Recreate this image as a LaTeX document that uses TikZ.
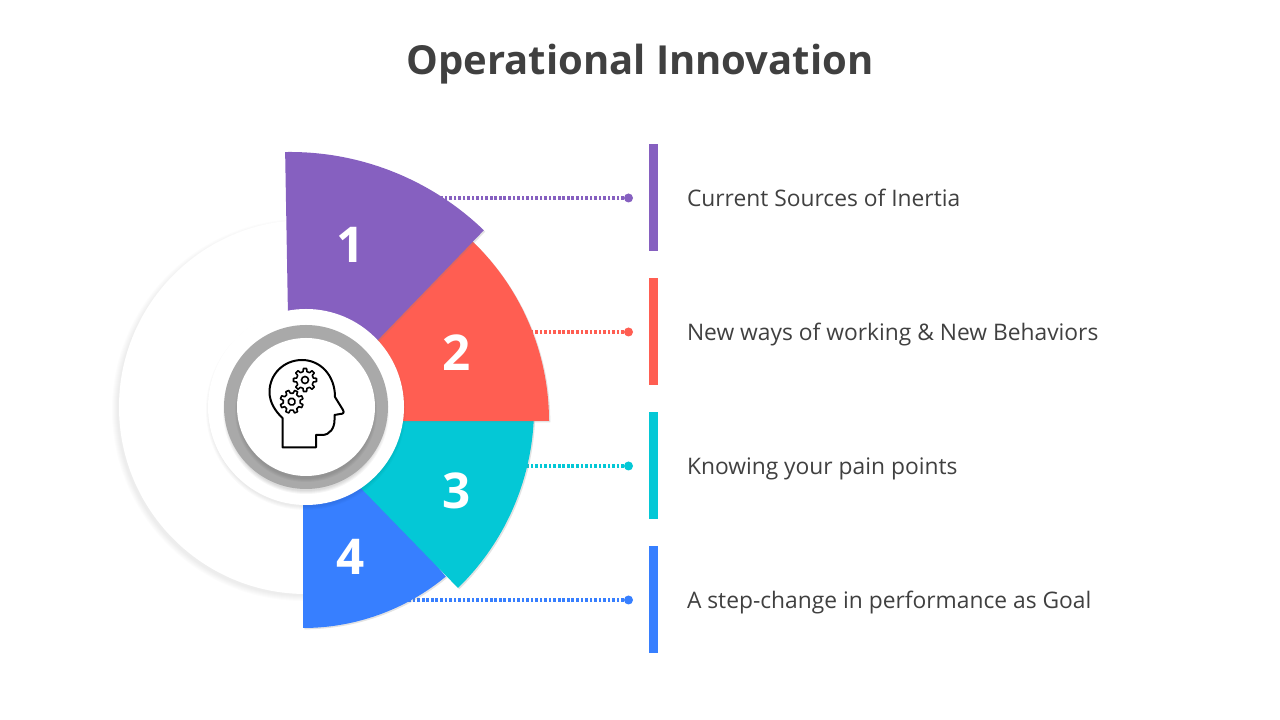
\documentclass[tikz,border=0pt]{standalone}
\usepackage{fontspec}
\setmainfont{Open Sans}
\definecolor{Micolor1}{HTML}{8660C0}
\definecolor{Micolor2}{HTML}{FF5E52}
\definecolor{Micolor3}{HTML}{04C8D6}
\definecolor{Micolor4}{HTML}{377FFF}
\definecolor{Micolor5}{HTML}{404040}
\definecolor{Micolor6}{HTML}{A9A9A9}
\usetikzlibrary{positioning, calc, shadows}

\begin{document}
\begin{tikzpicture}[
    x=0.75pt, y=0.75pt,
    bar/.style={rectangle, inner sep=0pt, outer sep=0pt, minimum width=6.75pt, minimum height=80.25pt},
    dot/.style={circle, inner sep=0pt, outer sep=0pt, minimum size=6.75pt, yshift=-0.375pt},
    txt/.style={font=\fontsize{17.1}{21}\selectfont, text=Micolor5, anchor=west, inner sep=0pt, outer sep=0pt, text height=12pt, text depth=3.5pt, yshift=-2.7pt},
    num/.style={font=\fontsize{37}{44}\selectfont\bfseries, text=white, inner sep=0pt},
    conn/.style={line width=2.3pt, dash pattern=on 2pt off 1.4pt},
    wedge/.style={drop shadow={shadow xshift=1pt, shadow yshift=-1pt, opacity=0.22}},
    gear/.pic={
      \draw[line width=1.2pt, line join=round] (-13:8.6)
        \foreach \a in {0,45,...,315}{
          -- (\a-13:8.6) -- (\a-8:11.6) -- (\a+8:11.6) -- (\a+13:8.6)} -- cycle;
      \draw[line width=1.2pt] (0,0) circle[radius=3.5];
    }]
  \useasboundingbox (0,0) rectangle (1280,720);
  % Titulo
  \node[font=\fontsize{30}{36}\selectfont\bfseries, text=Micolor5] (title) at (640,656) {Operational Innovation};
  % Barras
  \node[bar, fill=Micolor1] (bar1) at (653.5,522.5) {};
  \node[bar, fill=Micolor2, below=20.25pt of bar1] (bar2) {};
  \node[bar, fill=Micolor3, below=20.25pt of bar2] (bar3) {};
  \node[bar, fill=Micolor4, below=20.25pt of bar3] (bar4) {};
  % Puntos
  \node[dot, fill=Micolor1, left=12pt of bar1] (dot1) {};
  \node[dot, fill=Micolor2, left=12pt of bar2] (dot2) {};
  \node[dot, fill=Micolor3, left=12pt of bar3] (dot3) {};
  \node[dot, fill=Micolor4, left=12pt of bar4] (dot4) {};
  % Textos
  \node[txt, right=21.75pt of bar1] (txt1) {Current Sources of Inertia};
  \node[txt, right=21.75pt of bar2] (txt2) {New ways of working \& New Behaviors};
  \node[txt, right=21.75pt of bar3] (txt3) {Knowing your pain points};
  \node[txt, right=21.75pt of bar4] (txt4) {A step-change in performance as Goal};
  % Flechas punteadas
  \coordinate (end1) at (440,522);
  \coordinate (end2) at (525,388);
  \coordinate (end3) at (520,254);
  \coordinate (end4) at (405,120.5);
  \draw[conn, Micolor1] (dot1) -- (dot1 -| end1);
  \draw[conn, Micolor2] (dot2) -- (dot2 -| end2);
  \draw[conn, Micolor3] (dot3) -- (dot3 -| end3);
  \draw[conn, Micolor4] (dot4) -- (dot4 -| end4);
  % Disco de fondo
  \foreach \k in {1,...,6}
    \fill[black, opacity=0.012] (303,310) circle[radius=185+\k];
  \node[circle, fill=white, minimum size=280.5pt, inner sep=0pt, outer sep=0pt] (back) at (306,313) {};
  % Sectores
  \fill[Micolor4, wedge] (303,316) -- ++(-90:224) arc[start angle=-90, end angle=-50.4, radius=224] -- cycle;
  \fill[Micolor3, wedge] (283,312) -- ++(-2:251) arc[start angle=-2, end angle=-45.8, radius=251] -- cycle;
  \fill[Micolor2, wedge] (300,299) -- ++(47:249) arc[start angle=47, end angle=0, radius=249] -- cycle;
  \fill[Micolor1, wedge] (290,289) -- ++(91:279) arc[start angle=91, end angle=46, radius=279] -- cycle;
  % Numeros
  \node[num] (num1) at (351,475) {1};
  \node[num] (num2) at (457,367) {2};
  \node[num] (num3) at (457,229) {3};
  \node[num] (num4) at (351,163) {4};
  % Centro
  \foreach \k in {1,...,4}
    \fill[black, opacity=0.02] (306,310) circle[radius=96+\k];
  \node[circle, fill=white, minimum size=147pt, inner sep=0pt, outer sep=0pt] (hub) at (306,313) {};
  \foreach \k in {1,...,4}
    \fill[black, opacity=0.035] (306,309) circle[radius=79+\k];
  \node[circle, fill=Micolor6, minimum size=123pt, inner sep=0pt, outer sep=0pt] (ring) at (306,313) {};
  \foreach \k in {1,...,4}
    \fill[black, opacity=0.03] (306,309) circle[radius=67+\k];
  \node[circle, fill=white, minimum size=103.5pt, inner sep=0pt, outer sep=0pt] (core) at (306,313) {};
  % Icono
  \draw[line width=1.5pt, line join=round] (282.5,272.5) -- (316,272.5) -- (316,285) -- (322,285)
    .. controls (330,285) and (334.5,292) .. (334.5,300) -- (334.5,305) -- (340,306)
    .. controls (343,306) and (344.5,307) .. (343,310) -- (335,323)
    .. controls (335,345) and (320,360) .. (302,360)
    .. controls (284,360) and (269.5,346) .. (269.5,328)
    .. controls (269.5,318) and (275,309) .. (282.5,302) -- cycle;
  \pic at (305,340) {gear};
  \pic[rotate=22.5] at (291.7,318.3) {gear};
\end{tikzpicture}
\end{document}
